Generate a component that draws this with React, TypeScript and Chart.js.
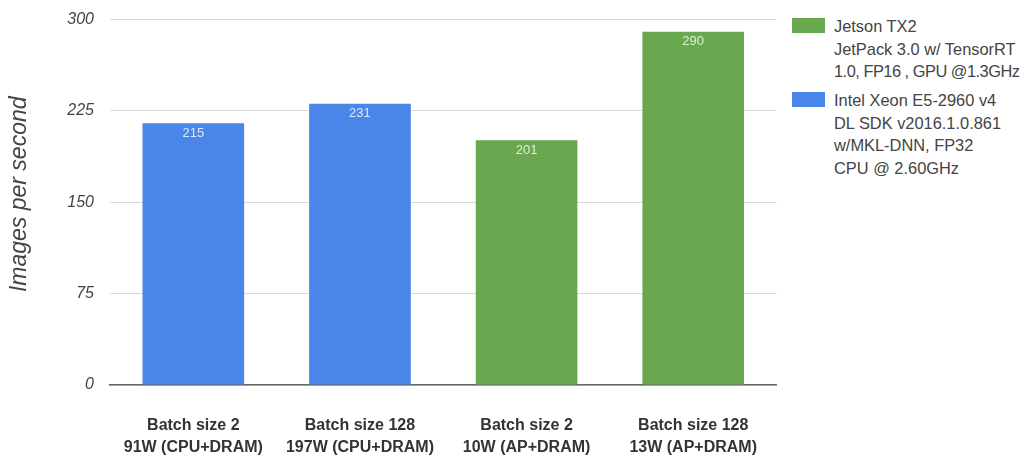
import React, { useEffect, useRef } from "react";
import { Chart, registerables } from "chart.js";

Chart.register(...registerables);

const categories: string[][] = [
  ["Batch size 2", "91W (CPU+DRAM)"],
  ["Batch size 128", "197W (CPU+DRAM)"],
  ["Batch size 2", "10W (AP+DRAM)"],
  ["Batch size 128", "13W (AP+DRAM)"],
];
const jetsonValues: (number | null)[] = [null, null, 201, 290];
const xeonValues: (number | null)[] = [215, 231, null, null];
const yTicks: number[] = [0, 75, 150, 225, 300];
const yTitle = "Images per second";
const jetsonLegend: string[] = ["Jetson TX2", "JetPack 3.0 w/ TensorRT", "1.0, FP16 , GPU @1.3GHz"];
const xeonLegend: string[] = ["Intel Xeon E5-2960 v4", "DL SDK v2016.1.0.861", "w/MKL-DNN, FP32", "CPU @ 2.60GHz"];

const GREEN = "#6aa84f";
const BLUE = "#4a86e8";
const FONT = "Arial, 'Liberation Sans', sans-serif";

const valueLabels = {
  id: "valueLabels",
  afterDatasetsDraw(chart: any) {
    const ctx = chart.ctx;
    ctx.save();
    ctx.font = "13px " + FONT;
    ctx.textAlign = "center";
    ctx.textBaseline = "middle";
    chart.data.datasets.forEach((ds: any, di: number) => {
      const meta = chart.getDatasetMeta(di);
      meta.data.forEach((el: any, i: number) => {
        const v = ds.data[i];
        if (v == null) return;
        ctx.fillStyle = di === 0 ? "#dcefd4" : "#dde8fa";
        ctx.fillText(String(v), el.x, el.y + 10);
      });
    });
    ctx.restore();
  },
};

const axisTitle = {
  id: "axisTitle",
  afterDraw(chart: any) {
    const ctx = chart.ctx;
    const a = chart.chartArea;
    ctx.save();
    ctx.translate(20, (a.top + a.bottom) / 2 - 8);
    ctx.rotate(-Math.PI / 2);
    ctx.font = "italic 23px " + FONT;
    ctx.fillStyle = "#444";
    ctx.textAlign = "center";
    ctx.textBaseline = "middle";
    ctx.fillText(yTitle, 0, 0);
    ctx.restore();
  },
};

export default function App() {
  const ref = useRef<HTMLCanvasElement>(null);
  useEffect(() => {
    document.body.style.margin = "0";
    const chart = new Chart(ref.current!, {
      type: "bar",
      data: {
        labels: categories,
        datasets: [
          { label: jetsonLegend.join(" "), data: jetsonValues, backgroundColor: GREEN, grouped: false, barPercentage: 0.61, categoryPercentage: 1 } as any,
          { label: xeonLegend.join(" "), data: xeonValues, backgroundColor: BLUE, grouped: false, barPercentage: 0.61, categoryPercentage: 1 } as any,
        ],
      },
      options: {
        animation: false,
        responsive: false,
        maintainAspectRatio: false,
        layout: { padding: { top: 10, left: 0, right: 0, bottom: 0 } },
        plugins: { legend: { display: false }, tooltip: { enabled: false } },
        scales: {
          x: {
            grid: { display: false, drawTicks: false },
            border: { display: true, color: "#666", width: 1.5 },
            ticks: {
              color: "#333",
              font: { family: FONT, size: 16, weight: "bold", lineHeight: 1.35 },
              padding: 30,
              maxRotation: 0,
            },
            afterFit: (s: any) => { s.height = 72; },
          },
          y: {
            min: 0,
            max: 300,
            afterBuildTicks: (s: any) => { s.ticks = yTicks.map((v) => ({ value: v })); },
            grid: { color: "#d9d9d9", drawTicks: false },
            border: { display: false },
            ticks: {
              color: "#444",
              font: { family: FONT, size: 16, style: "italic" },
              padding: 16,
            },
            title: { display: false },
            afterFit: (s: any) => { s.width = 110; },
          },
        },
      },
      plugins: [valueLabels, axisTitle],
    });
    return () => chart.destroy();
  }, []);

  const legendText: React.CSSProperties = {
    fontFamily: FONT,
    fontSize: 16.4,
    color: "#444",
    lineHeight: "22.5px",
    whiteSpace: "nowrap",
  };
  const swatch = (c: string): React.CSSProperties => ({
    position: "absolute", left: -42, top: 3, width: 33, height: 15, background: c,
  });

  return (
    <div style={{ position: "relative", width: 1026, height: 457, background: "#fff", overflow: "hidden" }}>
      <canvas ref={ref} width={787} height={463} style={{ position: "absolute", left: 0, top: -6, width: 787, height: 463 }} />
      <div style={{ position: "absolute", left: 834, top: 15, ...legendText }}>
        <div style={swatch(GREEN)} />
        {jetsonLegend.map((t, i) => (
          <div key={i} style={i === 2 ? { letterSpacing: "-0.5px" } : undefined}>{t}</div>
        ))}
      </div>
      <div style={{ position: "absolute", left: 834, top: 89, ...legendText }}>
        <div style={swatch(BLUE)} />
        {xeonLegend.map((t, i) => <div key={i}>{t}</div>)}
      </div>
    </div>
  );
}
